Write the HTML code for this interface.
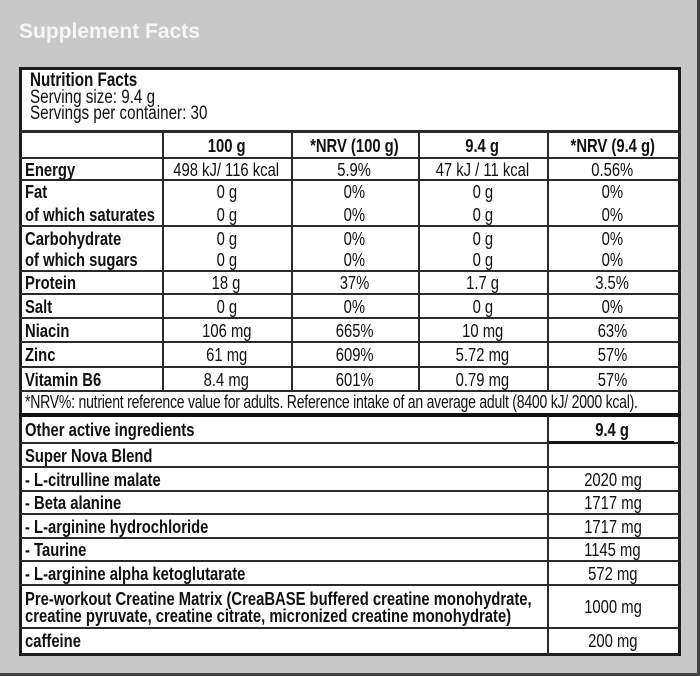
<!DOCTYPE html>
<html><head><meta charset="utf-8"><style>
*{margin:0;padding:0;box-sizing:border-box}
body{width:700px;height:676px;background:#c8c8c8;position:relative;overflow:hidden;font-family:"Liberation Sans Narrow","Liberation Sans",sans-serif;color:#111}
.t{position:absolute;left:19px;top:20px;font-family:"Liberation Sans","DejaVu Sans",sans-serif;font-weight:bold;font-size:21px;color:#f6f6f6}
.box{position:absolute;left:19px;top:67px;width:662px;height:589px;background:#fff;border:3px solid #1c1c1c}
.h{position:absolute;left:19px;width:662px;background:#2a2a2a}
.v{position:absolute;width:2px;background:#2a2a2a}
.r{position:absolute;left:22px;width:656px;display:flex;font-size:18.5px}
.r div{display:flex;align-items:center;justify-content:center;line-height:19px;text-align:center}
.r div.l{justify-content:flex-start;text-align:left;font-weight:bold;padding-left:3px}
.r span{display:inline-block;white-space:nowrap;transform:scaleX(.8);transform-origin:center}
.r div.l span{transform-origin:left center}
.s{display:inline-block;white-space:nowrap;transform:scaleX(.8);transform-origin:left center}
.c0{width:140px}.c1{width:129px}.c2{width:127px}.c3{width:129px}.c4{width:131px}
.w0{width:525px}.w1{width:131px}
.b{font-weight:bold}
</style></head><body>
<div class="t">Supplement Facts</div>
<div class="box"></div>
<div style="position:absolute;left:0;top:673px;width:700px;height:3px;background:#444"></div>
<div style="position:absolute;left:697px;top:0;width:3px;height:676px;background:#444"></div>
<div style="position:absolute;left:30px;top:73px;font-size:19px;line-height:16.5px">
<div class="b"><span class="s">Nutrition Facts</span></div><div><span class="s">Serving size: 9.4 g</span></div><div><span class="s">Servings per container: 30</span></div></div>
<div class="h" style="top:130px;height:3px"></div>
<div class="h" style="top:157px;height:2px"></div>
<div class="h" style="top:179px;height:2px"></div>
<div class="h" style="top:225px;height:2px"></div>
<div class="h" style="top:270px;height:2px"></div>
<div class="h" style="top:293px;height:2px"></div>
<div class="h" style="top:317px;height:2px"></div>
<div class="h" style="top:341px;height:2px"></div>
<div class="h" style="top:366px;height:2px"></div>
<div class="h" style="top:390px;height:2px"></div>
<div class="h" style="top:413px;height:4px;background:#111"></div>
<div class="h" style="top:442px;height:2px"></div>
<div style="position:absolute;left:548px;top:441px;width:126px;height:3px;background:#111"></div>
<div class="h" style="top:466px;height:2px"></div>
<div class="h" style="top:490px;height:2px"></div>
<div class="h" style="top:513px;height:2px"></div>
<div class="h" style="top:537px;height:2px"></div>
<div class="h" style="top:560px;height:2px"></div>
<div class="h" style="top:584px;height:2px"></div>
<div class="h" style="top:627px;height:2px"></div>
<div class="v" style="left:162px;top:131px;height:260px"></div>
<div class="v" style="left:291px;top:131px;height:260px"></div>
<div class="v" style="left:418px;top:131px;height:260px"></div>
<div class="v" style="left:547px;top:131px;height:260px"></div>
<div class="v" style="left:547px;top:416px;height:238px"></div>
<div class="r b" style="top:133px;height:24px"><div class="c0"></div><div class="c1"><span>100 g</span></div><div class="c2"><span>*NRV (100 g)</span></div><div class="c3"><span>9.4 g</span></div><div class="c4"><span>*NRV (9.4 g)</span></div></div>
<div class="r" style="top:159px;height:20px"><div class="l c0"><span>Energy</span></div><div class="c1"><span>498 kJ/ 116 kcal</span></div><div class="c2"><span>5.9%</span></div><div class="c3"><span>47 kJ / 11 kcal</span></div><div class="c4"><span>0.56%</span></div></div>
<div class="r" style="top:181px;height:44px"><div class="l c0" style="line-height:23px"><span>Fat<br>of which saturates</span></div><div class="c1" style="line-height:23px"><span>0 g<br>0 g</span></div><div class="c2" style="line-height:23px"><span>0%<br>0%</span></div><div class="c3" style="line-height:23px"><span>0 g<br>0 g</span></div><div class="c4" style="line-height:23px"><span>0%<br>0%</span></div></div>
<div class="r" style="top:227px;height:43px"><div class="l c0" style="line-height:21px"><span>Carbohydrate<br>of which sugars</span></div><div class="c1" style="line-height:21px"><span>0 g<br>0 g</span></div><div class="c2" style="line-height:21px"><span>0%<br>0%</span></div><div class="c3" style="line-height:21px"><span>0 g<br>0 g</span></div><div class="c4" style="line-height:21px"><span>0%<br>0%</span></div></div>
<div class="r" style="top:272px;height:21px"><div class="l c0"><span>Protein</span></div><div class="c1"><span>18 g</span></div><div class="c2"><span>37%</span></div><div class="c3"><span>1.7 g</span></div><div class="c4"><span>3.5%</span></div></div>
<div class="r" style="top:295px;height:22px"><div class="l c0"><span>Salt</span></div><div class="c1"><span>0 g</span></div><div class="c2"><span>0%</span></div><div class="c3"><span>0 g</span></div><div class="c4"><span>0%</span></div></div>
<div class="r" style="top:319px;height:22px"><div class="l c0"><span>Niacin</span></div><div class="c1"><span>106 mg</span></div><div class="c2"><span>665%</span></div><div class="c3"><span>10 mg</span></div><div class="c4"><span>63%</span></div></div>
<div class="r" style="top:343px;height:23px"><div class="l c0"><span>Zinc</span></div><div class="c1"><span>61 mg</span></div><div class="c2"><span>609%</span></div><div class="c3"><span>5.72 mg</span></div><div class="c4"><span>57%</span></div></div>
<div class="r" style="top:368px;height:22px"><div class="l c0"><span>Vitamin B6</span></div><div class="c1"><span>8.4 mg</span></div><div class="c2"><span>601%</span></div><div class="c3"><span>0.79 mg</span></div><div class="c4"><span>57%</span></div></div>
<div style="position:absolute;left:25px;top:392px;height:21px;line-height:21px;font-size:18px;letter-spacing:-0.3px"><span class="s" style="transform:scaleX(.78)">*NRV%: nutrient reference value for adults. Reference intake of an average adult (8400 kJ/ 2000 kcal).</span></div>
<div class="r" style="top:417px;height:25px"><div class="l w0"><span>Other active ingredients</span></div><div class="w1 b"><span>9.4 g</span></div></div>
<div class="r" style="top:444px;height:22px"><div class="l w0"><span>Super Nova Blend</span></div><div class="w1"></div></div>
<div class="r" style="top:468px;height:22px"><div class="l w0"><span>- L-citrulline malate</span></div><div class="w1"><span>2020 mg</span></div></div>
<div class="r" style="top:492px;height:21px"><div class="l w0"><span>- Beta alanine</span></div><div class="w1"><span>1717 mg</span></div></div>
<div class="r" style="top:515px;height:22px"><div class="l w0"><span>- L-arginine hydrochloride</span></div><div class="w1"><span>1717 mg</span></div></div>
<div class="r" style="top:539px;height:21px"><div class="l w0"><span>- Taurine</span></div><div class="w1"><span>1145 mg</span></div></div>
<div class="r" style="top:562px;height:22px"><div class="l w0"><span>- L-arginine alpha ketoglutarate</span></div><div class="w1"><span>572 mg</span></div></div>
<div class="r" style="top:586px;height:41px"><div class="l w0" style="line-height:17px"><span>Pre-workout Creatine Matrix (CreaBASE buffered creatine monohydrate,<br>creatine pyruvate, creatine citrate, micronized creatine monohydrate)</span></div><div class="w1"><span>1000 mg</span></div></div>
<div class="r" style="top:629px;height:23px"><div class="l w0"><span>caffeine</span></div><div class="w1"><span>200 mg</span></div></div>
</body></html>
